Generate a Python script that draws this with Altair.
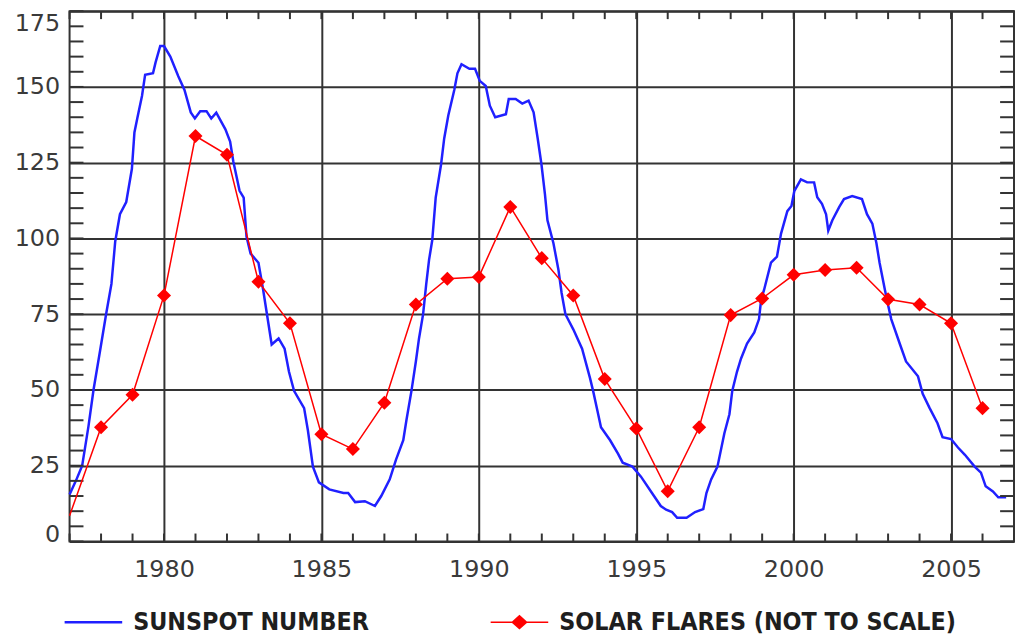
import altair as alt
import pandas as pd

# ---------------- data ----------------
sun_year = [
    1977.0, 1977.2, 1977.4, 1977.6, 1977.76, 1977.97, 1978.16, 1978.33, 1978.45, 1978.6,
    1978.8, 1978.98, 1979.06, 1979.15, 1979.3, 1979.4, 1979.65, 1979.73, 1979.88, 1980.0,
    1980.2, 1980.45, 1980.65, 1980.85, 1980.98, 1981.15, 1981.35, 1981.5, 1981.66, 1981.95,
    1982.1, 1982.2, 1982.4, 1982.53, 1982.62, 1982.75, 1983.0, 1983.15, 1983.27, 1983.42,
    1983.64, 1983.83, 1983.97, 1984.13, 1984.45, 1984.57, 1984.73, 1984.92, 1985.25, 1985.7,
    1985.85, 1986.07, 1986.38, 1986.7, 1986.9, 1987.17, 1987.37, 1987.6, 1987.7, 1987.86,
    1988.0, 1988.1, 1988.23, 1988.33, 1988.42, 1988.52, 1988.63, 1988.8, 1988.9, 1989.03,
    1989.22, 1989.32, 1989.45, 1989.7, 1989.88, 1990.03, 1990.22, 1990.35, 1990.52, 1990.86,
    1990.95, 1991.17, 1991.38, 1991.58, 1991.74, 1991.87, 1991.99, 1992.1, 1992.18, 1992.37,
    1992.53, 1992.63, 1992.75, 1993.0, 1993.28, 1993.53, 1993.63, 1993.75, 1993.88, 1994.17,
    1994.42, 1994.57, 1994.88, 1995.15, 1995.5, 1995.78, 1995.95, 1996.14, 1996.3, 1996.6,
    1996.87, 1997.13, 1997.23, 1997.38, 1997.58, 1997.8, 1997.96, 1998.05, 1998.2, 1998.33,
    1998.52, 1998.75, 1998.9, 1998.97, 1999.06, 1999.28, 1999.47, 1999.6, 1999.8, 1999.93,
    2000.02, 2000.23, 2000.43, 2000.65, 2000.75, 2000.9, 2001.03, 2001.1, 2001.23, 2001.45,
    2001.6, 2001.86, 2002.17, 2002.33, 2002.5, 2002.63, 2002.73, 2002.9, 2003.0, 2003.1,
    2003.38, 2003.57, 2003.95, 2004.1, 2004.32, 2004.57, 2004.73, 2005.0, 2005.22, 2005.44,
    2005.75, 2005.95, 2006.1, 2006.33, 2006.5, 2006.75,
]
sun_value = [
    15.5, 20, 25, 38, 50, 63, 75, 85, 99, 108,
    112, 123, 135, 139.6, 147, 154, 154.5, 158, 163.5, 163.5,
    160, 153.6, 149, 141.6, 139.6, 142, 142, 139.6, 141.5, 136,
    132, 125.5, 115.7, 113.5, 100.6, 95, 92, 83, 75, 65,
    67, 63.6, 56, 49.7, 44, 36.7, 24.7, 19.5, 17.2, 16,
    16, 13, 13.3, 11.7, 15, 20.5, 27, 33.4, 40, 49.7,
    59.4, 67, 75, 85, 93, 99.4, 113.5, 124.4, 133, 140.6,
    149, 154.5, 157.5, 156, 156, 152, 150.3, 143.8, 140, 141,
    146, 146, 144.5, 145.5, 141.6, 133, 124.4, 114.6, 106, 98.4,
    89.6, 82, 75, 70, 63.6, 54, 49.7, 44, 37.7, 33.4,
    29, 26, 24.7, 21.4, 16, 11.7, 10.5, 9.7, 7.8, 7.8,
    9.7, 10.7, 16, 20.5, 24.7, 35.7, 42, 49.7, 56, 60.4,
    65.3, 69, 73.4, 80, 83, 92, 94, 101.6, 109, 110.7,
    115.6, 119.5, 118.5, 118.5, 113.6, 111.4, 108, 102.6, 106, 110.4,
    113, 114, 113, 108, 104.9, 98.4, 92, 83, 78, 73.4,
    65, 59.4, 54.5, 48.7, 44, 39, 34.4, 33.8, 31, 28.6,
    24.7, 22.7, 18.2, 16.5, 14.6, 14.6,
]

flare_year = list(range(1977, 2007))
flare_value = [
    8.5, 37.7, 48.4, 81.2, 133.8, 127.6, 85.7, 72.0, 35.4, 30.5,
    45.8, 78.2, 86.7, 87.3, 110.4, 93.5, 81.2, 53.6, 37.3, 16.6,
    37.7, 74.7, 80.2, 88.0, 89.6, 90.3, 79.9, 78.2, 72.0, 44.0,
]

series_names = ["SUNSPOT NUMBER", "SOLAR FLARES (NOT TO SCALE)"]
series_colors = ["#2020ff", "#ff0000"]

x_label_values = [1980, 1985, 1990, 1995, 2000, 2005]
y_label_values = [0, 25, 50, 75, 100, 125, 150, 175]
x_minor_values = list(range(1977, 2008))
y_minor_values = list(range(0, 176, 5))

# ---------------- tables ----------------
sun_df = pd.DataFrame({"year": sun_year, "value": sun_value})
flare_df = pd.DataFrame({"year": flare_year, "value": flare_value})
marker_df = flare_df[flare_df["year"] >= 1978]
xtick_df = pd.DataFrame({"year": x_minor_values})
ytick_df = pd.DataFrame({"value": y_minor_values})
# invisible (clipped) rows that only carry the legend
legend_df = pd.DataFrame({"series": series_names, "year": [1990, 1990], "value": [-40, -40]})

# ---------------- styling ----------------
W, H = 951, 534
GRID = "#333333"
TICK_FONT = "DejaVu Sans"
LEG_FONT = "DejaVu Sans Condensed, DejaVu Sans"
XT, YT = 8, 14   # inward minor tick lengths (px)

xs = alt.Scale(domain=[1977, 2007], nice=False, zero=False)
ys = alt.Scale(domain=[0, 175], nice=False, zero=False)

y_lo, y_hi = y_label_values[0], y_label_values[-1]
y_baseline = {
    "condition": [
        {"test": f"datum.value == {y_lo}", "value": "alphabetic"},
        {"test": f"datum.value == {y_hi}", "value": "top"},
    ],
    "value": "middle",
}

main_x = alt.Axis(orient="bottom", values=x_label_values, format="d", title=None,
                  grid=True, gridColor=GRID, gridWidth=2, gridOpacity=1,
                  ticks=False, domain=False, labelFlush=False, minExtent=0,
                  labelFont=TICK_FONT, labelFontSize=24, labelColor="#3a3a3a",
                  labelPadding=16)
main_y = alt.Axis(orient="left", values=y_label_values, format="d", title=None,
                  grid=True, gridColor=GRID, gridWidth=2, gridOpacity=1,
                  ticks=False, domain=False, labelFlush=False, minExtent=0,
                  labelBaseline=y_baseline,
                  labelFont=TICK_FONT, labelFontSize=24, labelColor="#3a3a3a",
                  labelPadding=10)

X = alt.X("year:Q", scale=xs, axis=main_x)
Y = alt.Y("value:Q", scale=ys, axis=main_y)

sun_line = alt.Chart(sun_df).mark_line(color=series_colors[0], strokeWidth=2.5).encode(x=X, y=Y)

# inward minor ticks: every year on top/bottom, every 5 units on left/right
tick_style = dict(color=GRID, strokeWidth=2)
xt_bottom = alt.Chart(xtick_df).mark_rule(**tick_style).encode(
    x=X, y=alt.value(H), y2=alt.value(H - XT))
xt_top = alt.Chart(xtick_df).mark_rule(**tick_style).encode(
    x=X, y=alt.value(0), y2=alt.value(XT))
yt_left = alt.Chart(ytick_df).mark_rule(**tick_style).encode(
    y=Y, x=alt.value(0), x2=alt.value(YT))
yt_right = alt.Chart(ytick_df).mark_rule(**tick_style).encode(
    y=Y, x=alt.value(W - YT), x2=alt.value(W))

flare_line = alt.Chart(flare_df).mark_line(color=series_colors[1], strokeWidth=1.5).encode(x=X, y=Y)

flare_pts = alt.Chart(marker_df).mark_point(
    shape="diamond", filled=True, color=series_colors[1], opacity=1, size=200
).encode(x=X, y=Y)

path_sun = "M-4,-0.17H4V0.17H-4Z"
path_flare = "M-4,-0.1H-1.03L0,-1.03L1.03,-0.1H4V0.1H1.03L0,1.03L-1.03,0.1H-4Z"

leg = alt.Legend(orient="none", legendX=11.5, legendY=602.5, direction="horizontal",
                 title=None, padding=0, symbolSize=210, symbolStrokeWidth=0,
                 symbolOpacity=1, labelFont=LEG_FONT, labelFontWeight="bold",
                 labelFontSize=25, labelColor="#1e1e1e", labelOffset=27.5,
                 labelLimit=1000, columnPadding=121)

legend_layer = alt.Chart(legend_df).mark_point(filled=True, opacity=1, clip=True).encode(
    x=X, y=Y,
    color=alt.Color("series:N", scale=alt.Scale(domain=series_names, range=series_colors),
                    legend=leg),
    shape=alt.Shape("series:N", scale=alt.Scale(domain=series_names, range=[path_sun, path_flare]),
                    legend=leg),
)

chart = alt.layer(
    sun_line, xt_bottom, xt_top, yt_left, yt_right, flare_line, flare_pts, legend_layer
).properties(
    width=W, height=H,
    padding={"left": 6, "top": 0, "right": 0, "bottom": 0},
    background="white",
).configure_view(stroke=GRID, strokeWidth=2)

chart.save("out.html", embed_options={"renderer": "svg", "actions": False})
